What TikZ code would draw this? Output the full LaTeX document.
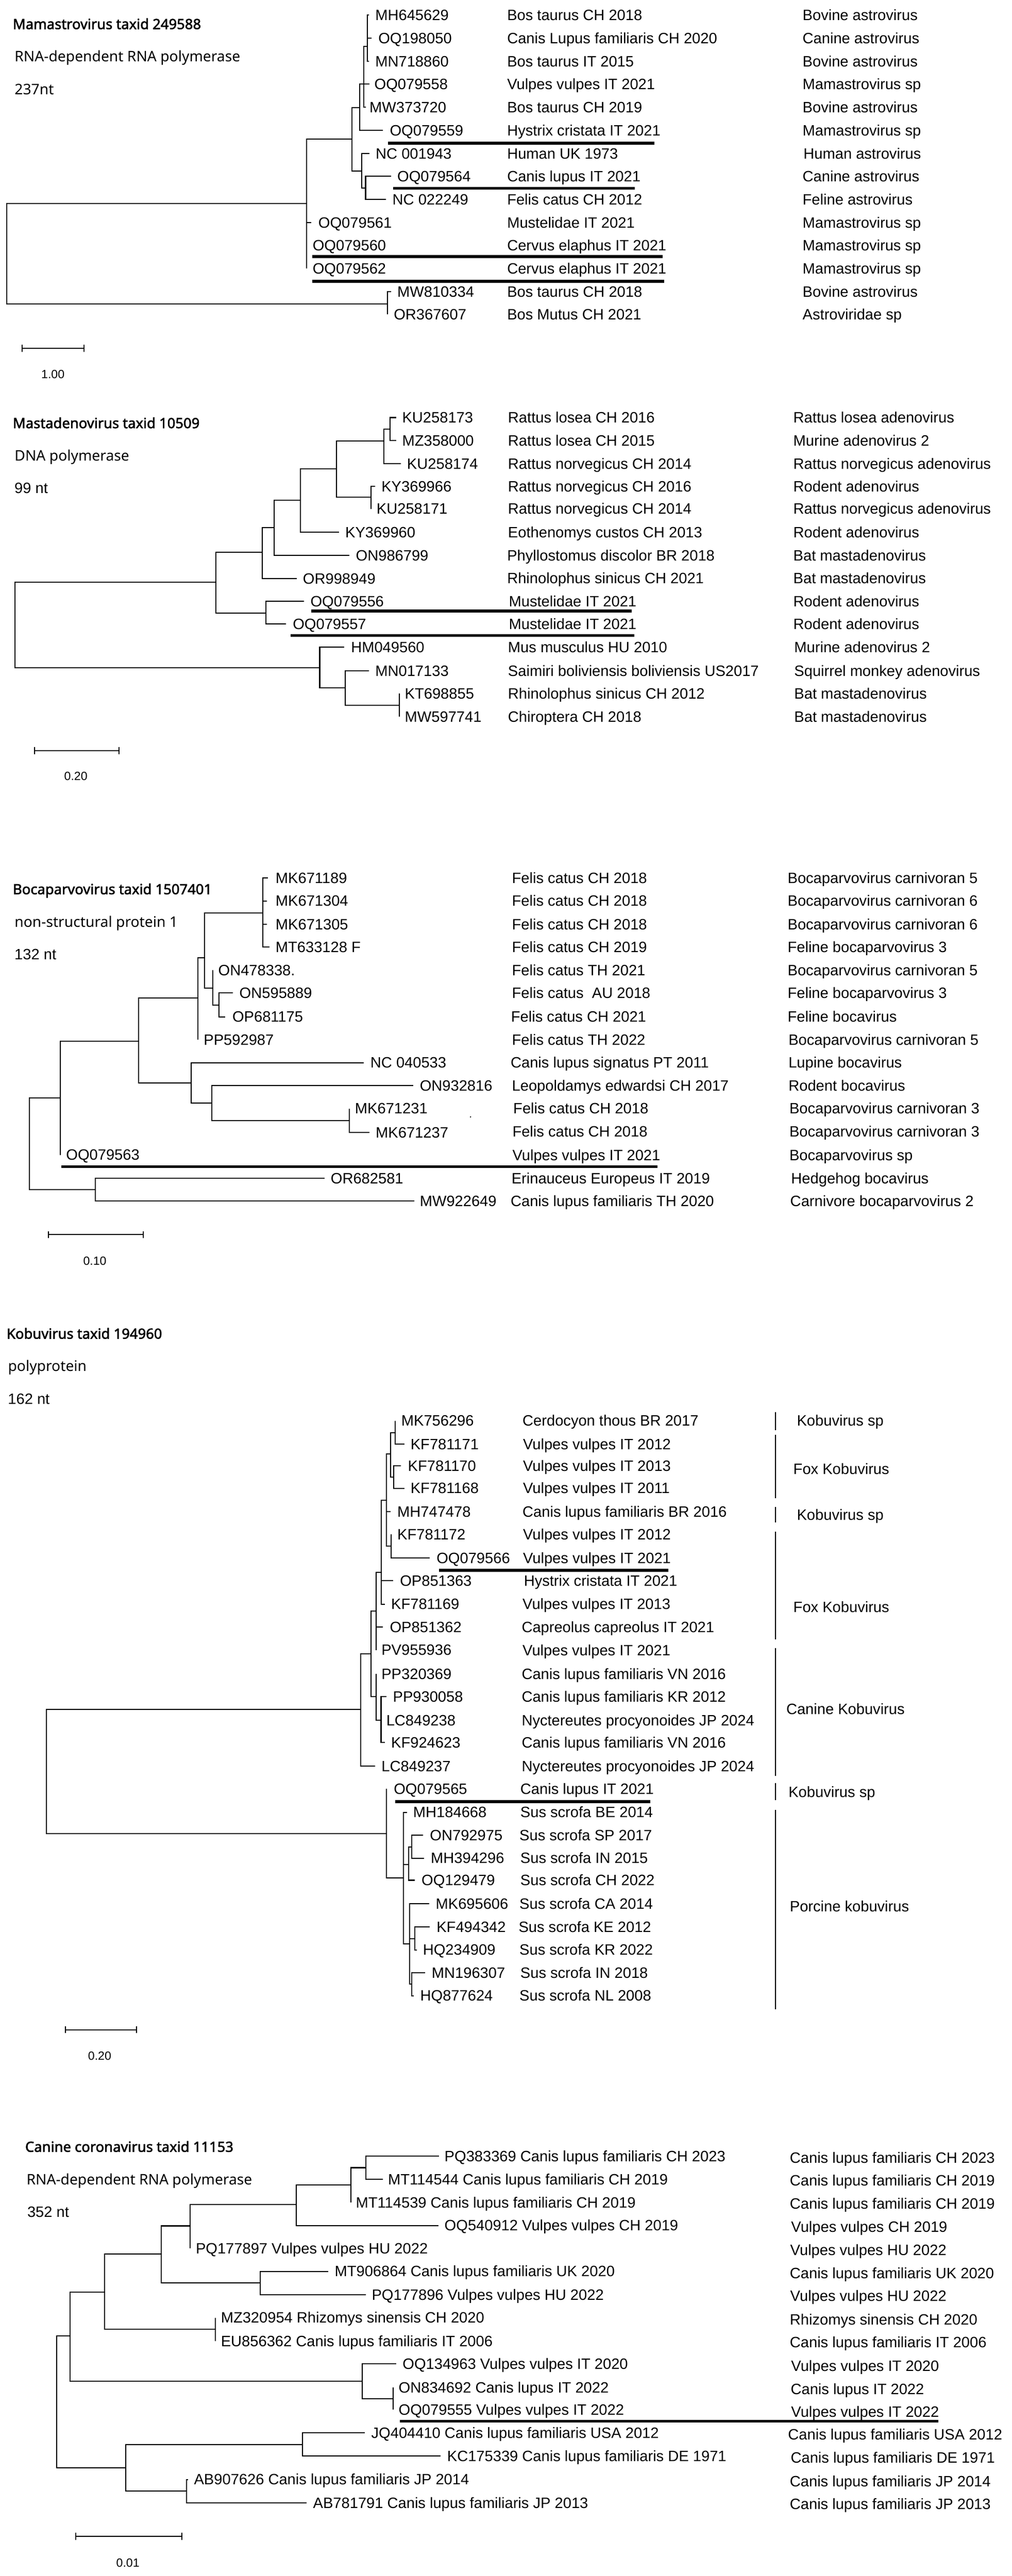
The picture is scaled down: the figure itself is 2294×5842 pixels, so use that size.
\documentclass[tikz,border=0pt]{standalone}
\usepackage{fontspec}
\setmainfont{Liberation Sans}
\newfontfamily\hdrfam{Noto Sans}
\newfontfamily\ttlfam[FakeBold=2.2]{Noto Sans}
\newcommand\labfont{\fontsize{34}{40}\selectfont}
\newcommand\hdrfont{\hdrfam\fontsize{33}{40}\selectfont}
\newcommand\ttlfont{\ttlfam\bfseries\fontsize{32}{38}\selectfont}
\newcommand\sbfont{\fontsize{27}{32}\selectfont}
\newcommand\mktip[5]{\coordinate (#1) at (#2,#3);\node[lab] (#1-l) at (#4,#3) {#5};}
\newcommand\mkbr[2]{\foreach \kid in {#2}{\draw[br] (#1) |- (\kid);}}
\newcommand\mkhs[6]{\node[lab] (#1-h) at (#2,#3) {#4};\node[lab] (#1-s) at (#5,#3) {#6};}
\tikzset{
  br/.style={line width=2.4pt},
  lab/.style={anchor=base west, inner sep=0pt, outer sep=0pt, font=\labfont, yshift=-12pt},
  hdr/.style={anchor=base west, inner sep=0pt, font=\hdrfont, yshift=-12pt},
  ttl/.style={anchor=base west, inner sep=0pt, font=\ttlfont, yshift=-12pt},
  ul/.style={line width=6.5pt},
  sb/.style={line width=2.4pt},
  sblab/.style={anchor=base, inner sep=0pt, font=\sbfont, yshift=-10pt},
  grp/.style={line width=2.4pt},
}
\begin{document}
\begin{tikzpicture}[x=1pt,y=-1pt]
\fill[white] (0,0) rectangle (2294,5842);
\useasboundingbox (0,0) rectangle (2294,5842);

% ================= TREE 1 =================
\node[ttl] (t1title) at (29,54) {Mamastrovirus taxid 249588};
\node[hdr] (t1gene) at (33,128) {RNA-dependent RNA polymerase};
\node[hdr] (t1nt) at (33,202) {237nt};
\coordinate (t1r) at (15,575);
\coordinate (t1a) at (695,461);
\coordinate (t1b) at (798,315);
\coordinate (t1c) at (816,244);
\coordinate (t1d) at (825,191);
\coordinate (t1e) at (833,105);
\coordinate (t1g) at (820,388);
\coordinate (t1h) at (829,427);
\coordinate (t1i) at (879,689);
\mktip{t1MH645629}{836}{34}{851}{MH645629}
\mktip{t1OQ198050}{842}{87}{858}{OQ198050}
\mktip{t1MN718860}{836}{139}{851}{MN718860}
\mktip{t1OQ079558}{838}{191}{849}{OQ079558}
\mktip{t1MW373720}{829}{243}{838}{MW373720}
\mktip{t1OQ079559}{868}{296}{884}{OQ079559}
\mktip{t1NC001943}{838}{348}{852}{NC 001943}
\mktip{t1OQ079564}{887}{400}{901}{OQ079564}
\mktip{t1NC022249}{875}{452}{890}{NC 022249}
\mktip{t1OQ079561}{706}{505}{722}{OQ079561}
\mktip{t1OQ079560}{695}{557}{709}{OQ079560}
\mktip{t1OQ079562}{695}{609}{709}{OQ079562}
\mktip{t1MW810334}{887}{661}{901}{MW810334}
\mktip{t1OR367607}{879}{713}{893}{OR367607}
\mkbr{t1r}{t1a,t1i}
\mkbr{t1a}{t1b,t1OQ079561,t1OQ079560,t1OQ079562}
\mkbr{t1b}{t1c,t1g}
\mkbr{t1c}{t1d,t1OQ079559}
\mkbr{t1d}{t1e,t1OQ079558,t1MW373720}
\mkbr{t1e}{t1MH645629,t1OQ198050,t1MN718860}
\mkbr{t1g}{t1NC001943,t1h}
\mkbr{t1h}{t1OQ079564,t1NC022249}
\mkbr{t1i}{t1MW810334,t1OR367607}
\mkhs{t1r1}{1150}{34}{Bos taurus CH 2018}{1820}{Bovine astrovirus}
\mkhs{t1r2}{1150}{87}{Canis Lupus familiaris CH 2020}{1820}{Canine astrovirus}
\mkhs{t1r3}{1150}{139}{Bos taurus IT 2015}{1820}{Bovine astrovirus}
\mkhs{t1r4}{1150}{191}{Vulpes vulpes IT 2021}{1820}{Mamastrovirus sp}
\mkhs{t1r5}{1150}{243}{Bos taurus CH 2019}{1820}{Bovine astrovirus}
\mkhs{t1r6}{1150}{296}{Hystrix cristata IT 2021}{1820}{Mamastrovirus sp}
\mkhs{t1r7}{1150}{348}{Human UK 1973}{1822}{Human astrovirus}
\mkhs{t1r8}{1150}{400}{Canis lupus IT 2021}{1820}{Canine astrovirus}
\mkhs{t1r9}{1150}{452}{Felis catus CH 2012}{1820}{Feline astrovirus}
\mkhs{t1r10}{1150}{505}{Mustelidae IT 2021}{1820}{Mamastrovirus sp}
\mkhs{t1r11}{1150}{557}{Cervus elaphus IT 2021}{1820}{Mamastrovirus sp}
\mkhs{t1r12}{1150}{609}{Cervus elaphus IT 2021}{1820}{Mamastrovirus sp}
\mkhs{t1r13}{1150}{661}{Bos taurus CH 2018}{1820}{Bovine astrovirus}
\mkhs{t1r14}{1150}{713}{Bos Mutus CH 2021}{1820}{Astroviridae sp}
\draw[ul] (880,325) -- (1484,325);
\draw[ul] (891,427) -- (1440,427);
\draw[ul] (708,582) -- (1502,582);
\draw[ul] (708,638) -- (1506,638);
\coordinate (t1s1) at (50,790); \coordinate (t1s2) at (190,790);
\draw[sb] (t1s1) -- (t1s2);
\draw[sb] ([yshift=8pt]t1s1) -- ([yshift=-8pt]t1s1);
\draw[sb] ([yshift=8pt]t1s2) -- ([yshift=-8pt]t1s2);
\node[sblab] (t1sl) at (120,848) {1.00};

% ================= TREE 2 =================
\node[ttl] (t2title) at (29,959) {Mastadenovirus taxid 10509};
\node[hdr] (t2gene) at (33,1033) {DNA polymerase};
\node[lab] (t2nt) at (33,1107) {99 nt};
\coordinate (t2r) at (34,1417);
\coordinate (t2a) at (490,1320);
\coordinate (t2b) at (595,1252);
\coordinate (t2c) at (622,1196);
\coordinate (t2d) at (681,1134);
\coordinate (t2e) at (763,1063);
\coordinate (t2p) at (870,1000);
\coordinate (t2k) at (884,973);
\coordinate (t2f) at (841,1128);
\coordinate (t2l) at (603,1390);
\coordinate (t2m) at (725,1514);
\coordinate (t2n) at (783,1560);
\coordinate (t2o) at (906,1599);
\mktip{t2KU258173}{898}{947}{912}{KU258173}
\mktip{t2MZ358000}{898}{999}{912}{MZ358000}
\mktip{t2KU258174}{909}{1052}{923}{KU258174}
\mktip{t2KY369966}{851}{1103}{865}{KY369966}
\mktip{t2KU258171}{841}{1154}{854}{KU258171}
\mktip{t2KY369960}{769}{1207}{783}{KY369960}
\mktip{t2ON986799}{792}{1260}{807}{ON986799}
\mktip{t2OR998949}{673}{1312}{687}{OR998949}
\mktip{t2OQ079556}{689}{1364}{704}{OQ079556}
\mktip{t2OQ079557}{649}{1415}{664}{OQ079557}
\mktip{t2HM049560}{781}{1468}{796}{HM049560}
\mktip{t2MN017133}{836}{1521}{851}{MN017133}
\mktip{t2KT698855}{906}{1573}{918}{KT698855}
\mktip{t2MW597741}{906}{1625}{918}{MW597741}
\mkbr{t2r}{t2a,t2m}
\mkbr{t2a}{t2b,t2l}
\mkbr{t2b}{t2c,t2OR998949}
\mkbr{t2c}{t2d,t2ON986799}
\mkbr{t2d}{t2e,t2KY369960}
\mkbr{t2e}{t2p,t2f}
\mkbr{t2p}{t2k,t2KU258174}
\mkbr{t2k}{t2KU258173,t2MZ358000}
\mkbr{t2f}{t2KY369966,t2KU258171}
\mkbr{t2l}{t2OQ079556,t2OQ079557}
\mkbr{t2m}{t2HM049560,t2n}
\mkbr{t2n}{t2MN017133,t2o}
\mkbr{t2o}{t2KT698855,t2MW597741}
\mkhs{t2r1}{1152}{947}{Rattus losea CH 2016}{1799}{Rattus losea adenovirus}
\mkhs{t2r2}{1152}{999}{Rattus losea CH 2015}{1799}{Murine adenovirus 2}
\mkhs{t2r3}{1152}{1052}{Rattus norvegicus CH 2014}{1799}{Rattus norvegicus adenovirus}
\mkhs{t2r4}{1152}{1103}{Rattus norvegicus CH 2016}{1799}{Rodent adenovirus}
\mkhs{t2r5}{1152}{1154}{Rattus norvegicus CH 2014}{1799}{Rattus norvegicus adenovirus}
\mkhs{t2r6}{1152}{1207}{Eothenomys custos CH 2013}{1799}{Rodent adenovirus}
\mkhs{t2r7}{1150}{1260}{Phyllostomus discolor BR 2018}{1799}{Bat mastadenovirus}
\mkhs{t2r8}{1150}{1311}{Rhinolophus sinicus CH 2021}{1799}{Bat mastadenovirus}
\mkhs{t2r9}{1154}{1364}{Mustelidae IT 2021}{1799}{Rodent adenovirus}
\mkhs{t2r10}{1154}{1415}{Mustelidae IT 2021}{1799}{Rodent adenovirus}
\mkhs{t2r11}{1152}{1468}{Mus musculus HU 2010}{1801}{Murine adenovirus 2}
\mkhs{t2r12}{1152}{1521}{Saimiri boliviensis boliviensis US2017}{1801}{Squirrel monkey adenovirus}
\mkhs{t2r13}{1152}{1573}{Rhinolophus sinicus CH 2012}{1801}{Bat mastadenovirus}
\mkhs{t2r14}{1152}{1625}{Chiroptera CH 2018}{1801}{Bat mastadenovirus}
\draw[ul] (706,1386) -- (1433,1386);
\draw[ul] (659,1441) -- (1438,1441);
\coordinate (t2s1) at (78,1702); \coordinate (t2s2) at (270,1702);
\draw[sb] (t2s1) -- (t2s2);
\draw[sb] ([yshift=8pt]t2s1) -- ([yshift=-8pt]t2s1);
\draw[sb] ([yshift=8pt]t2s2) -- ([yshift=-8pt]t2s2);
\node[sblab] (t2sl) at (172,1760) {0.20};

% ================= TREE 3 =================
\node[ttl] (t3title) at (29,2016) {Bocaparvovirus taxid 1507401};
\node[hdr] (t3gene) at (33,2090) {non-structural protein 1};
\node[lab] (t3nt) at (33,2164) {132 nt};
\coordinate (t3r) at (67,2594);
\coordinate (t3a) at (137,2490);
\coordinate (t3b) at (314,2361);
\coordinate (t3c) at (449,2263);
\coordinate (t3e) at (464,2172);
\coordinate (t3s) at (596,2070);
\coordinate (t3f) at (483,2241);
\coordinate (t3g) at (497,2280);
\coordinate (t3d) at (434,2456);
\coordinate (t3h) at (480,2502);
\coordinate (t3i) at (792,2541);
\coordinate (t3j) at (216,2698);
\mktip{t3MK671189}{608}{1991}{625}{MK671189}
\mktip{t3MK671304}{605}{2043}{625}{MK671304}
\mktip{t3MK671305}{605}{2096}{625}{MK671305}
\mktip{t3MT633128}{611}{2148}{625}{MT633128 F}
\mktip{t3ON478338}{483}{2200}{495}{ON478338.}
\mktip{t3ON595889}{528}{2252}{543}{ON595889}
\mktip{t3OP681175}{511}{2306}{527}{OP681175}
\mktip{t3PP592987}{449}{2358}{462}{PP592987}
\mktip{t3NC040533}{825}{2410}{840}{NC 040533}
\mktip{t3ON932816}{937}{2462}{952}{ON932816}
\mktip{t3MK671231}{792}{2514}{805}{MK671231}
\mktip{t3MK671237}{838}{2568}{852}{MK671237}
\mktip{t3OQ079563}{137}{2619}{150}{OQ079563}
\mktip{t3OR682581}{736}{2672}{750}{OR682581}
\mktip{t3MW922649}{939}{2724}{952}{MW922649}
\mkbr{t3r}{t3a,t3j}
\mkbr{t3a}{t3b,t3OQ079563}
\mkbr{t3b}{t3c,t3d}
\mkbr{t3c}{t3e,t3PP592987}
\mkbr{t3e}{t3s,t3f}
\mkbr{t3s}{t3MK671189,t3MK671304,t3MK671305,t3MT633128}
\mkbr{t3f}{t3ON478338,t3g}
\mkbr{t3g}{t3ON595889,t3OP681175}
\mkbr{t3d}{t3NC040533,t3h}
\mkbr{t3h}{t3ON932816,t3i}
\mkbr{t3i}{t3MK671231,t3MK671237}
\mkbr{t3j}{t3OR682581,t3MW922649}
\mkhs{t3r1}{1161}{1991}{Felis catus CH 2018}{1786}{Bocaparvovirus carnivoran 5}
\mkhs{t3r2}{1161}{2043}{Felis catus CH 2018}{1786}{Bocaparvovirus carnivoran 6}
\mkhs{t3r3}{1161}{2096}{Felis catus CH 2018}{1786}{Bocaparvovirus carnivoran 6}
\mkhs{t3r4}{1161}{2148}{Felis catus CH 2019}{1786}{Feline bocaparvovirus 3}
\mkhs{t3r5}{1161}{2200}{Felis catus TH 2021}{1786}{Bocaparvovirus carnivoran 5}
\mkhs{t3r6}{1161}{2252}{Felis catus\ \ AU 2018}{1786}{Feline bocaparvovirus 3}
\mkhs{t3r7}{1159}{2306}{Felis catus CH 2021}{1786}{Feline bocavirus}
\mkhs{t3r8}{1161}{2358}{Felis catus TH 2022}{1788}{Bocaparvovirus carnivoran 5}
\mkhs{t3r9}{1158}{2410}{Canis lupus signatus PT 2011}{1788}{Lupine bocavirus}
\mkhs{t3r10}{1161}{2462}{Leopoldamys edwardsi CH 2017}{1788}{Rodent bocavirus}
\mkhs{t3r11}{1164}{2514}{Felis catus CH 2018}{1790}{Bocaparvovirus carnivoran 3}
\mkhs{t3r12}{1162}{2566}{Felis catus CH 2018}{1790}{Bocaparvovirus carnivoran 3}
\mkhs{t3r13}{1162}{2620}{Vulpes vulpes IT 2021}{1790}{Bocaparvovirus sp}
\mkhs{t3r14}{1160}{2672}{Erinauceus Europeus IT 2019}{1794}{Hedgehog bocavirus}
\mkhs{t3r15}{1158}{2724}{Canis lupus familiaris TH 2020}{1792}{Carnivore bocaparvovirus 2}
\node[circle, fill, inner sep=0pt, minimum size=3pt] (t3dot) at (1067,2533) {};
\draw[ul] (139,2646) -- (1491,2646);
\coordinate (t3s1) at (110,2800); \coordinate (t3s2) at (325,2800);
\draw[sb] (t3s1) -- (t3s2);
\draw[sb] ([yshift=8pt]t3s1) -- ([yshift=-8pt]t3s1);
\draw[sb] ([yshift=8pt]t3s2) -- ([yshift=-8pt]t3s2);
\node[sblab] (t3sl) at (215,2859) {0.10};

% ================= TREE 4 =================
\node[ttl] (t4title) at (15,3024) {Kobuvirus taxid 194960};
\node[hdr] (t4gene) at (18,3098) {polyprotein};
\node[lab] (t4nt) at (18,3172) {162 nt};
\coordinate (t4r) at (105,4018);
\coordinate (t4a) at (818,3877);
\coordinate (t4b) at (841,3750);
\coordinate (t4c) at (853,3653);
\coordinate (t4e) at (865,3566);
\coordinate (t4g) at (876,3402);
\coordinate (t4h) at (886,3297);
\coordinate (t4k) at (896,3249);
\coordinate (t4j) at (893,3350);
\coordinate (t4i) at (887,3506);
\coordinate (t4d) at (853,3848);
\coordinate (t4q) at (864,3901);
\coordinate (t4l) at (876,4158);
\coordinate (t4m) at (915,4259);
\coordinate (t4n) at (926,4228);
\coordinate (t4o) at (933,4189);
\coordinate (t4p) at (929,4408);
\coordinate (t4u) at (941,4397);
\coordinate (t4v) at (934,4500);
\mktip{t4MK756296}{896}{3222}{910}{MK756296}
\mktip{t4KF781171}{917}{3275}{931}{KF781171}
\mktip{t4KF781170}{909}{3324}{925}{KF781170}
\mktip{t4KF781168}{917}{3375}{931}{KF781168}
\mktip{t4MH747478}{886}{3428}{901}{MH747478}
\mktip{t4KF781172}{887}{3480}{901}{KF781172}
\mktip{t4OQ079566}{975}{3533}{990}{OQ079566}
\mktip{t4OP851363}{891}{3585}{907}{OP851363}
\mktip{t4KF781169}{873}{3638}{887}{KF781169}
\mktip{t4OP851362}{868}{3690}{884}{OP851362}
\mktip{t4PV955936}{853}{3742}{865}{PV955936}
\mktip{t4PP320369}{853}{3796}{865}{PP320369}
\mktip{t4PP930058}{876}{3848}{891}{PP930058}
\mktip{t4LC849238}{864}{3901}{876}{LC849238}
\mktip{t4KF924623}{873}{3952}{887}{KF924623}
\mktip{t4LC849237}{851}{4005}{865}{LC849237}
\mktip{t4OQ079565}{876}{4057}{893}{OQ079565}
\mktip{t4MH184668}{923}{4110}{937}{MH184668}
\mktip{t4ON792975}{959}{4162}{975}{ON792975}
\mktip{t4MH394296}{962}{4214}{977}{MH394296}
\mktip{t4OQ129479}{940}{4264}{956}{OQ129479}
\mktip{t4MK695606}{973}{4317}{988}{MK695606}
\mktip{t4KF494342}{975}{4370}{990}{KF494342}
\mktip{t4HQ234909}{945}{4422}{959}{HQ234909}
\mktip{t4MN196307}{964}{4474}{979}{MN196307}
\mktip{t4HQ877624}{938}{4526}{953}{HQ877624}
\mkbr{t4r}{t4a,t4l}
\mkbr{t4a}{t4b,t4LC849237}
\mkbr{t4b}{t4c,t4d}
\mkbr{t4c}{t4e,t4OP851362,t4PV955936}
\mkbr{t4e}{t4g,t4OP851363,t4KF781169}
\mkbr{t4g}{t4h,t4MH747478,t4i}
\mkbr{t4h}{t4k,t4j}
\mkbr{t4k}{t4MK756296,t4KF781171}
\mkbr{t4j}{t4KF781170,t4KF781168}
\mkbr{t4i}{t4KF781172,t4OQ079566}
\mkbr{t4d}{t4PP320369,t4q}
\mkbr{t4q}{t4PP930058,t4LC849238,t4KF924623}
\mkbr{t4l}{t4OQ079565,t4m}
\mkbr{t4m}{t4MH184668,t4n,t4p}
\mkbr{t4n}{t4o,t4OQ129479}
\mkbr{t4o}{t4ON792975,t4MH394296}
\mkbr{t4p}{t4MK695606,t4u,t4v}
\mkbr{t4u}{t4KF494342,t4HQ234909}
\mkbr{t4v}{t4MN196307,t4HQ877624}
\node[lab] (t4h1) at (1185,3222) {Cerdocyon thous BR 2017};
\node[lab] (t4h2) at (1186,3275) {Vulpes vulpes IT 2012};
\node[lab] (t4h3) at (1186,3324) {Vulpes vulpes IT 2013};
\node[lab] (t4h4) at (1186,3375) {Vulpes vulpes IT 2011};
\node[lab] (t4h5) at (1185,3428) {Canis lupus familiaris BR 2016};
\node[lab] (t4h6) at (1186,3480) {Vulpes vulpes IT 2012};
\node[lab] (t4h7) at (1186,3533) {Vulpes vulpes IT 2021};
\node[lab] (t4h8) at (1188,3585) {Hystrix cristata IT 2021};
\node[lab] (t4h9) at (1185,3638) {Vulpes vulpes IT 2013};
\node[lab] (t4h10) at (1183,3690) {Capreolus capreolus IT 2021};
\node[lab] (t4h11) at (1185,3743) {Vulpes vulpes IT 2021};
\node[lab] (t4h12) at (1183,3796) {Canis lupus familiaris VN 2016};
\node[lab] (t4h13) at (1183,3848) {Canis lupus familiaris KR 2012};
\node[lab] (t4h14) at (1183,3901) {Nyctereutes procyonoides JP 2024};
\node[lab] (t4h15) at (1183,3952) {Canis lupus familiaris VN 2016};
\node[lab] (t4h16) at (1183,4005) {Nyctereutes procyonoides JP 2024};
\node[lab] (t4h17) at (1180,4057) {Canis lupus IT 2021};
\node[lab] (t4h18) at (1180,4110) {Sus scrofa BE 2014};
\node[lab] (t4h19) at (1178,4162) {Sus scrofa SP 2017};
\node[lab] (t4h20) at (1180,4214) {Sus scrofa IN 2015};
\node[lab] (t4h21) at (1180,4264) {Sus scrofa CH 2022};
\node[lab] (t4h22) at (1178,4317) {Sus scrofa CA 2014};
\node[lab] (t4h23) at (1176,4370) {Sus scrofa KE 2012};
\node[lab] (t4h24) at (1178,4422) {Sus scrofa KR 2022};
\node[lab] (t4h25) at (1180,4474) {Sus scrofa IN 2018};
\node[lab] (t4h26) at (1178,4526) {Sus scrofa NL 2008};
\draw[grp] (1758,3203) -- (1758,3243); \node[lab] (t4g1) at (1807,3222) {Kobuvirus sp};
\draw[grp] (1758,3254) -- (1758,3398); \node[lab] (t4g2) at (1799,3331) {Fox Kobuvirus};
\draw[grp] (1758,3417) -- (1758,3452); \node[lab] (t4g3) at (1807,3435) {Kobuvirus sp};
\draw[grp] (1758,3474) -- (1758,3718); \node[lab] (t4g4) at (1799,3644) {Fox Kobuvirus};
\draw[grp] (1758,3738) -- (1758,4027); \node[lab] (t4g5) at (1783,3876) {Canine Kobuvirus};
\draw[grp] (1758,4044) -- (1758,4082); \node[lab] (t4g6) at (1788,4064) {Kobuvirus sp};
\draw[grp] (1758,4105) -- (1758,4557); \node[lab] (t4g7) at (1791,4323) {Porcine kobuvirus};
\draw[ul] (996,3561) -- (1515,3561);
\draw[ul] (896,4086) -- (1475,4086);
\coordinate (t4s1) at (148,4603); \coordinate (t4s2) at (310,4603);
\draw[sb] (t4s1) -- (t4s2);
\draw[sb] ([yshift=8pt]t4s1) -- ([yshift=-8pt]t4s1);
\draw[sb] ([yshift=8pt]t4s2) -- ([yshift=-8pt]t4s2);
\node[sblab] (t4sl) at (226,4662) {0.20};

% ================= TREE 5 =================
\node[ttl] (t5title) at (57,4868) {Canine coronavirus taxid 11153};
\node[hdr] (t5gene) at (60,4942) {RNA-dependent RNA polymerase};
\node[lab] (t5nt) at (62,5016) {352 nt};
\coordinate (t5r) at (128,5448);
\coordinate (t5a) at (159,5298);
\coordinate (t5b) at (237,5198);
\coordinate (t5c) at (366,5112);
\coordinate (t5d) at (431,5048);
\coordinate (t5e) at (672,5000);
\coordinate (t5g) at (796,4955);
\coordinate (t5h) at (830,4916);
\coordinate (t5i) at (590,5177);
\coordinate (t5j) at (488,5282);
\coordinate (t5k) at (821,5400);
\coordinate (t5l) at (891,5440);
\coordinate (t5m) at (285,5597);
\coordinate (t5n) at (686,5544);
\coordinate (t5o) at (423,5649);
\mktip{t5PQ383369}{995}{4890}{1008}{PQ383369 Canis lupus familiaris CH 2023}
\mktip{t5MT114544}{868}{4942}{880}{MT114544 Canis lupus familiaris CH 2019}
\mktip{t5MT114539}{796}{4995}{807}{MT114539 Canis lupus familiaris CH 2019}
\mktip{t5OQ540912}{994}{5047}{1008}{OQ540912 Vulpes vulpes CH 2019}
\mktip{t5PQ177897}{431}{5099}{444}{PQ177897 Vulpes vulpes HU 2022}
\mktip{t5MT906864}{744}{5151}{759}{MT906864 Canis lupus familiaris UK 2020}
\mktip{t5PQ177896}{829}{5204}{843}{PQ177896 Vulpes vulpes HU 2022}
\mktip{t5MZ320954}{488}{5256}{501}{MZ320954 Rhizomys sinensis CH 2020}
\mktip{t5EU856362}{488}{5309}{501}{EU856362 Canis lupus familiaris IT 2006}
\mktip{t5OQ134963}{898}{5361}{913}{OQ134963 Vulpes vulpes IT 2020}
\mktip{t5ON834692}{891}{5414}{904}{ON834692 Canis lupus IT 2022}
\mktip{t5OQ079555}{891}{5465}{904}{OQ079555 Vulpes vulpes IT 2022}
\mktip{t5JQ404410}{827}{5517}{842}{JQ404410 Canis lupus familiaris USA 2012}
\mktip{t5KC175339}{999}{5570}{1014}{KC175339 Canis lupus familiaris DE 1971}
\mktip{t5AB907626}{427}{5623}{440}{AB907626 Canis lupus familiaris JP 2014}
\mktip{t5AB781791}{695}{5676}{710}{AB781791 Canis lupus familiaris JP 2013}
\mkbr{t5r}{t5a,t5m}
\mkbr{t5a}{t5b,t5k}
\mkbr{t5b}{t5c,t5j}
\mkbr{t5c}{t5d,t5i}
\mkbr{t5d}{t5e,t5PQ177897}
\mkbr{t5e}{t5g,t5OQ540912}
\mkbr{t5g}{t5h,t5MT114539}
\mkbr{t5h}{t5PQ383369,t5MT114544}
\mkbr{t5i}{t5MT906864,t5PQ177896}
\mkbr{t5j}{t5MZ320954,t5EU856362}
\mkbr{t5k}{t5OQ134963,t5l}
\mkbr{t5l}{t5ON834692,t5OQ079555}
\mkbr{t5m}{t5n,t5o}
\mkbr{t5n}{t5JQ404410,t5KC175339}
\mkbr{t5o}{t5AB907626,t5AB781791}
\node[lab] (t5c1) at (1791,4893) {Canis lupus familiaris CH 2023};
\node[lab] (t5c2) at (1791,4945) {Canis lupus familiaris CH 2019};
\node[lab] (t5c3) at (1791,4998) {Canis lupus familiaris CH 2019};
\node[lab] (t5c4) at (1794,5050) {Vulpes vulpes CH 2019};
\node[lab] (t5c5) at (1792,5103) {Vulpes vulpes HU 2022};
\node[lab] (t5c6) at (1791,5155) {Canis lupus familiaris UK 2020};
\node[lab] (t5c7) at (1792,5207) {Vulpes vulpes HU 2022};
\node[lab] (t5c8) at (1791,5260) {Rhizomys sinensis CH 2020};
\node[lab] (t5c9) at (1791,5312) {Canis lupus familiaris IT 2006};
\node[lab] (t5c10) at (1794,5365) {Vulpes vulpes IT 2020};
\node[lab] (t5c11) at (1793,5418) {Canis lupus IT 2022};
\node[lab] (t5c12) at (1794,5469) {Vulpes vulpes IT 2022};
\node[lab] (t5c13) at (1787,5521) {Canis lupus familiaris USA 2012};
\node[lab] (t5c14) at (1793,5574) {Canis lupus familiaris DE 1971};
\node[lab] (t5c15) at (1791,5627) {Canis lupus familiaris JP 2014};
\node[lab] (t5c16) at (1791,5679) {Canis lupus familiaris JP 2013};
\draw[ul] (907,5491) -- (2128,5491);
\coordinate (t5s1) at (172,5752); \coordinate (t5s2) at (412,5752);
\draw[sb] (t5s1) -- (t5s2);
\draw[sb] ([yshift=8pt]t5s1) -- ([yshift=-8pt]t5s1);
\draw[sb] ([yshift=8pt]t5s2) -- ([yshift=-8pt]t5s2);
\node[sblab] (t5sl) at (290,5811) {0.01};
\end{tikzpicture}
\end{document}
